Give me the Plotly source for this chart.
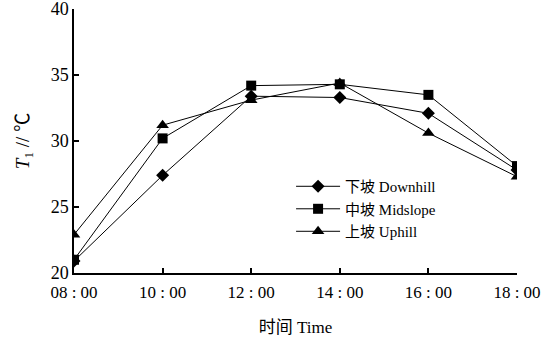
import plotly.graph_objects as go

times = ["08:00", "10:00", "12:00", "14:00", "16:00", "18:00"]
tick_text = ["08 : 00", "10 : 00", "12 : 00", "14 : 00", "16 : 00", "18 : 00"]
y_ticks = [20, 25, 30, 35, 40]
downhill = [20.9, 27.4, 33.4, 33.3, 32.1, 27.8]
midslope = [21.0, 30.2, 34.2, 34.3, 33.5, 28.1]
uphill = [22.9, 31.2, 33.1, 34.4, 30.6, 27.3]

series = [
    ("下坡 Downhill", downhill, "diamond", 10),
    ("中坡 Midslope", midslope, "square", 10),
    ("上坡 Uphill", uphill, "triangle-up", 11),
]

FONT = "Liberation Serif, Noto Sans CJK SC, serif"

fig = go.Figure()
for name, vals, sym, sz in series:
    fig.add_trace(go.Scatter(
        x=times, y=vals, name=name, mode="lines+markers",
        line=dict(color="black", width=1),
        marker=dict(symbol=sym, size=sz, color="black"),
    ))

fig.update_layout(
    width=559, height=341,
    margin=dict(l=74, r=42, t=9, b=68),
    paper_bgcolor="white", plot_bgcolor="white",
    font=dict(family=FONT, color="black", size=17),
    showlegend=True,
    legend=dict(
        x=0.49, y=0.39, xanchor="left", yanchor="top",
        bgcolor="rgba(0,0,0,0)", font=dict(size=15, family=FONT),
        tracegroupgap=0, itemwidth=44,
    ),
    xaxis=dict(
        type="category", range=[0, 5], automargin=False,
        tickvals=times, ticktext=tick_text,
        showline=True, linecolor="black", linewidth=1.5,
        ticks="inside", ticklen=5, tickcolor="black", tickwidth=1.5,
        showgrid=False, zeroline=False,
        tickfont=dict(size=17, family=FONT),
        ticklabelstandoff=3,
        title=dict(text="时间 Time", font=dict(size=17, family=FONT), standoff=20),
    ),
    yaxis=dict(
        range=[19.995, 40.01], tickvals=y_ticks, automargin=False,
        showline=True, linecolor="black", linewidth=1.5,
        ticks="inside", ticklen=5, tickcolor="black", tickwidth=1.5,
        showgrid=False, zeroline=False,
        ticklabeloverflow="allow",
        tickfont=dict(size=18, family=FONT),
        title=dict(text="<i>T</i><sub>1</sub> // ℃", font=dict(size=19, family=FONT), standoff=16),
    ),
)

fig.write_html("out.html")
